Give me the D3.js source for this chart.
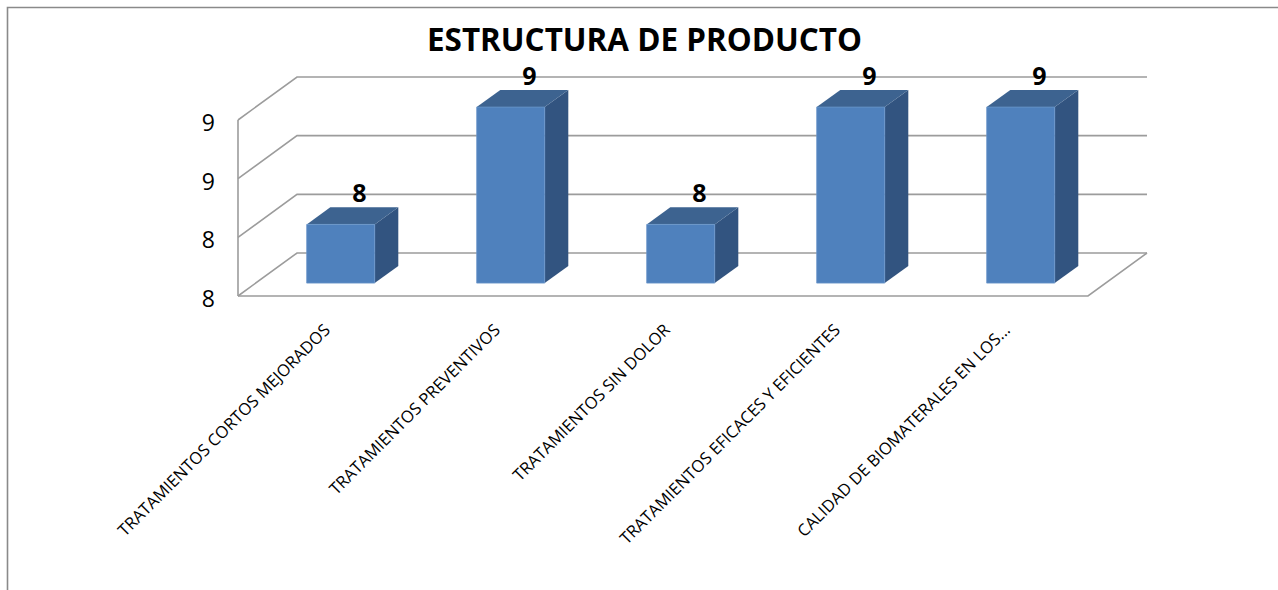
<!DOCTYPE html>
<html>
<head>
<meta charset="utf-8">
<script src="https://cdn.jsdelivr.net/npm/d3@7/dist/d3.min.js"></script>
<style>
  html, body { margin: 0; padding: 0; background: #fff; }
  svg { display: block; }
</style>
</head>
<body>
<script>
// Chart data
const categories = [
  "TRATAMIENTOS CORTOS MEJORADOS",
  "TRATAMIENTOS PREVENTIVOS",
  "TRATAMIENTOS SIN DOLOR",
  "TRATAMIENTOS EFICACES Y EFICIENTES",
  "CALIDAD DE BIOMATERALES EN LOS..."
];
const values = [8, 9, 8, 9, 9];
const valueLabels = ["8", "9", "8", "9", "9"];
const tickValues = [7.5, 8, 8.5, 9];
const tickLabels = ["8", "8", "9", "9"];
const chartTitle = "ESTRUCTURA DE PRODUCTO";

const W = 1278, H = 590;
const svg = d3.select("body").append("svg").attr("width", W).attr("height", H);

// Outer frame (top and left edges visible)
svg.append("path")
  .attr("d", `M7.5,${H} L7.5,7.5 L${W},7.5`)
  .attr("fill", "none").attr("stroke", "#8a8a8a").attr("stroke-width", 1.6);

// Title
svg.append("text")
  .attr("x", 644.5).attr("y", 51)
  .attr("text-anchor", "middle")
  .attr("font-family", "'Open Sans', sans-serif")
  .attr("font-weight", "bold")
  .attr("font-size", 33)
  .attr("textLength", 435).attr("lengthAdjust", "spacingAndGlyphs")
  .attr("fill", "#000")
  .text(chartTitle);

// Front plane scales, plus an oblique depth offset for the 3D look
const x = d3.scaleBand().domain(categories).range([238, 1088]).paddingInner(0.6).paddingOuter(0.3);
const xCat = d3.scaleBand().domain(categories).range([238, 1088]);
const y = d3.scaleLinear().domain([7.5, 9]).range([296, 120]);
const depthDX = 59, depthDY = -43;
const barDepth0 = 0.3, barDepth1 = 0.7;
function proj(xf, v, d) { return [xf + d * depthDX, y(v) + d * depthDY]; }

const grid = svg.append("g").attr("fill", "none").attr("stroke", "#9c9c9c").attr("stroke-width", 1.6);
const xMin = 238, xMax = 1088, vMin = y.domain()[0];

// Back wall gridlines and left wall diagonals
tickValues.forEach(v => {
  const a = proj(xMin, v, 1), b = proj(xMax, v, 1), c = proj(xMin, v, 0);
  grid.append("path").attr("d", `M${c[0]},${c[1]} L${a[0]},${a[1]} L${b[0]},${b[1]}`);
});
// Front vertical axis line
{
  const a = proj(xMin, vMin, 0), b = proj(xMin, tickValues[tickValues.length - 1], 0);
  grid.append("path").attr("d", `M${b[0]},${b[1]} L${a[0]},${a[1]}`);
}
// Floor front and right edges
{
  const a = proj(xMin, vMin, 0), b = proj(xMax, vMin, 0), c = proj(xMax, vMin, 1);
  grid.append("path").attr("d", `M${a[0]},${a[1]} L${b[0]},${b[1]} L${c[0]},${c[1]}`);
}

// Value axis labels
svg.append("g").selectAll("text").data(tickValues).join("text")
  .attr("x", 215).attr("y", d => y(d) + 3)
  .attr("dy", "0.35em")
  .attr("text-anchor", "end")
  .attr("font-family", "'Open Sans', sans-serif")
  .attr("font-size", 23)
  .attr("fill", "#000")
  .text((d, i) => tickLabels[i]);

// Bars as oblique prisms
const bars = svg.append("g");
const data = categories.map((c, i) => ({ c, v: values[i], label: valueLabels[i] }));
const pts = arr => arr.map(p => p.join(",")).join(" ");
data.forEach(d => {
  const x0 = x(d.c), x1 = x(d.c) + x.bandwidth();
  const fbl = proj(x0, vMin, barDepth0), fbr = proj(x1, vMin, barDepth0);
  const ftl = proj(x0, d.v, barDepth0), ftr = proj(x1, d.v, barDepth0);
  const btl = proj(x0, d.v, barDepth1), btr = proj(x1, d.v, barDepth1);
  const bbr = proj(x1, vMin, barDepth1);
  // side face
  bars.append("polygon").attr("points", pts([fbr, ftr, btr, bbr])).attr("fill", "#325480");
  // top face
  bars.append("polygon").attr("points", pts([ftl, ftr, btr, btl])).attr("fill", "#3d6390");
  // front face
  bars.append("polygon").attr("points", pts([fbl, fbr, ftr, ftl])).attr("fill", "#4f81bd")
    .attr("stroke", "#6a95c9").attr("stroke-width", 0.8);
  // value label above the back of the bar top
  const top = proj((x0 + x1) / 2, d.v, barDepth1);
  svg.append("text")
    .attr("x", top[0] - 5).attr("y", top[1] - 5)
    .attr("text-anchor", "middle")
    .attr("font-family", "'Open Sans', sans-serif")
    .attr("font-weight", "bold")
    .attr("font-size", 25)
    .attr("fill", "#000")
    .text(d.label);
});

// Category labels, rotated
svg.append("g").selectAll("text").data(categories).join("text")
  .attr("transform", c => `translate(${xCat(c) + xCat.bandwidth() / 2 + 4},327) rotate(-45)`)
  .attr("dy", "0.35em")
  .attr("text-anchor", "end")
  .attr("font-family", "'Open Sans', sans-serif")
  .attr("font-size", 16.6)
  .attr("fill", "#000")
  .text(c => c);
</script>
</body>
</html>
